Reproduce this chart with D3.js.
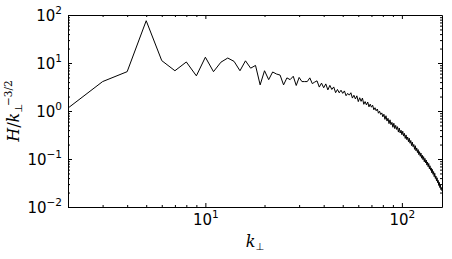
<!DOCTYPE html>
<html>
<head>
<meta charset="utf-8">
<script src="https://cdn.jsdelivr.net/npm/d3@7"></script>
<style>
body { margin: 0; background: #fff; }
svg { display: block; }
.tick text { font-family: "DejaVu Sans", sans-serif; font-size: 15px; fill: #000; }
.lbl { font-family: "DejaVu Serif", serif; font-size: 16px; fill: #000; }
</style>
</head>
<body>
<div id="chart"></div>
<script>
// perpendicular wavenumber
const kPerp = [
  2, 3, 4, 5, 6, 7, 8, 9, 10, 11, 12, 13, 14, 15, 16, 17, 18, 19, 20, 21,
  22, 23, 24, 25, 26, 27, 28, 29, 30, 31, 32, 33, 34, 35, 36, 37, 38, 39, 40, 41,
  42, 43, 44, 45, 46, 47, 48, 49, 50, 51, 52, 53, 54, 55, 56, 57, 58, 59, 60, 61,
  62, 63, 64, 65, 66, 67, 68, 69, 70, 71, 72, 73, 74, 75, 76, 77, 78, 79, 80, 81,
  82, 83, 84, 85, 86, 87, 88, 89, 90, 91, 92, 93, 94, 95, 96, 97, 98, 99, 100, 101,
  102, 103, 104, 105, 106, 107, 108, 109, 110, 111, 112, 113, 114, 115, 116, 117, 118, 119, 120, 121,
  122, 123, 124, 125, 126, 127, 128, 129, 130, 131, 132, 133, 134, 135, 136, 137, 138, 139, 140, 141,
  142, 143, 144, 145, 146, 147, 148, 149, 150, 151, 152, 153, 154, 155, 156, 157, 158, 159, 160
]
// H / k_perp^(-3/2)
const hNorm = [
  1.15, 4.1, 6.6, 76, 11.2, 6.9, 10.5, 5.4, 13.2, 6.6, 10.4, 12.7, 10.8, 6.9, 11.1, 7.8, 8.9, 3.5, 6.9, 4.5,
  6.5, 5.9, 5.6, 3.5, 4.9, 4.5, 5.3, 3.4, 5.0, 4.1, 4.1, 4.1, 4.9, 3.72, 4.00, 4.25, 3.15, 3.81, 3.05, 3.67,
  2.75, 3.42, 2.81, 3.17, 2.41, 2.81, 2.39, 2.71, 2.33, 2.62, 2.08, 2.33, 2.14, 2.40, 1.86, 2.13, 1.78, 2.07, 1.57, 1.89,
  1.59, 1.86, 1.38, 1.57, 1.34, 1.54, 1.22, 1.39, 1.20, 1.32, 1.06, 1.17, 1.01, 1.10, 0.90, 0.99, 0.847, 0.912, 0.756, 0.857,
  0.669, 0.796, 0.617, 0.705, 0.545, 0.655, 0.518, 0.580, 0.458, 0.556, 0.430, 0.501, 0.413, 0.471, 0.364, 0.442, 0.348, 0.398, 0.321, 0.379,
  0.300, 0.342, 0.268, 0.317, 0.252, 0.287, 0.229, 0.271, 0.213, 0.243, 0.190, 0.225, 0.180, 0.201, 0.159, 0.189, 0.148, 0.170, 0.136, 0.157,
  0.123, 0.142, 0.114, 0.133, 0.104, 0.120, 0.097, 0.112, 0.0875, 0.103, 0.0829, 0.0953, 0.0747, 0.0867, 0.0691, 0.0806, 0.0624, 0.0722, 0.0582, 0.0652,
  0.0514, 0.0606, 0.0479, 0.0547, 0.0429, 0.0504, 0.0393, 0.0442, 0.0351, 0.0406, 0.0321, 0.0359, 0.0281, 0.0326, 0.0254, 0.0286, 0.0230, 0.0254, 0.0215
]
const xMajorExps = [1, 2]
const xMinorTicks = [3, 4, 5, 6, 7, 8, 9, 20, 30, 40, 50, 60, 70, 80, 90]
const yMajorExps = [-2, -1, 0, 1, 2]
const yMinorTicks = [
  0.02, 0.03, 0.04, 0.05, 0.06, 0.07, 0.08, 0.09,
  0.2, 0.3, 0.4, 0.5, 0.6, 0.7, 0.8, 0.9,
  2, 3, 4, 5, 6, 7, 8, 9,
  20, 30, 40, 50, 60, 70, 80, 90
]

var margin = {top: 15, right: 10, bottom: 52, left: 68},
    width = 452 - margin.left - margin.right,
    height = 259 - margin.top - margin.bottom;

var x = d3.scaleLog().domain([2, 160]).range([0, width])
var y = d3.scaleLog().domain([0.01, 100]).range([height, 0])

var svg = d3.select("#chart").append("svg")
    .attr("width", 452)
    .attr("height", 259)
  .append("g")
    .attr("transform", "translate(" + margin.left + "," + margin.top + ")");

const supText = e => String(e).replace("-", "\u2212")

// put "10" + superscript exponent into a tick label
function powLabel(sel, xPos, yPos) {
  sel.each(function(d) {
    const t = d3.select(this)
    const e = Math.round(Math.log10(d))
    t.text(null).attr("dy", null).attr("x", xPos).attr("y", yPos)
    t.append("tspan").text("10")
    t.append("tspan").attr("dy", -7).style("font-size", "10.5px").text(supText(e))
  })
}

function addAxis(axisFn, scale, majors, minors, transform, withLabels) {
  const gMinor = svg.append("g").attr("transform", transform)
    .call(axisFn(scale).tickValues(minors).tickSize(-2).tickFormat(""))
  gMinor.select(".domain").remove()
  const g = svg.append("g").attr("transform", transform)
    .call(axisFn(scale).tickValues(majors.map(e => Math.pow(10, e))).tickSize(-4).tickSizeOuter(0))
  g.selectAll("line, path").attr("stroke", "#000")
  gMinor.selectAll("line").attr("stroke", "#000")
  if (!withLabels) g.selectAll(".tick text").remove()
  return g
}

// bottom / left with labels, top / right plain
const gx = addAxis(d3.axisBottom, x, xMajorExps, xMinorTicks, "translate(0," + height + ")", true)
gx.selectAll(".tick text").attr("text-anchor", "middle").call(powLabel, 0, 18)
addAxis(d3.axisTop, x, xMajorExps, xMinorTicks, "translate(0,0)", false)

const gy = addAxis(d3.axisLeft, y, yMajorExps, yMinorTicks, "translate(0,0)", true)
gy.selectAll(".tick text").attr("text-anchor", "end").call(powLabel, -6, 5.5)
addAxis(d3.axisRight, y, yMajorExps, yMinorTicks, "translate(" + width + ",0)", false)

var line = d3.line()
  .x((d, i) => x(kPerp[i]))
  .y(d => y(d))

svg.append("path")
  .datum(hNorm)
  .attr("fill", "none")
  .attr("stroke", "#000")
  .attr("stroke-width", 1)
  .attr("stroke-linejoin", "round")
  .attr("d", line)

// axis titles
const xl = svg.append("text").attr("class", "lbl")
  .attr("x", width / 2).attr("y", height + 40).attr("text-anchor", "middle")
xl.append("tspan").style("font-style", "italic").text("k")
xl.append("tspan").attr("dy", 3).style("font-size", "10px").style("font-family", "DejaVu Sans").text("\u22A5")

const yl = svg.append("text").attr("class", "lbl")
  .attr("transform", "translate(" + (18.5 - margin.left) + "," + (height / 2) + ") rotate(-90)")
  .attr("text-anchor", "middle")
yl.append("tspan").style("font-style", "italic").text("H")
yl.append("tspan").text("/")
yl.append("tspan").style("font-style", "italic").text("k")
yl.append("tspan").attr("dy", 3).style("font-size", "10px").style("font-family", "DejaVu Sans").text("\u22A5")
yl.append("tspan").attr("dy", -10).attr("dx", -2).style("font-size", "10.5px").text("\u22123/2")
</script>
</body>
</html>
